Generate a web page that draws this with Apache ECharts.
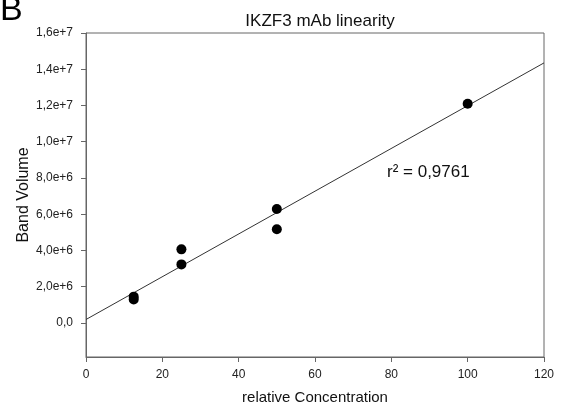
<!DOCTYPE html>
<html><head><meta charset="utf-8">
<script src="https://cdn.jsdelivr.net/npm/echarts@6/dist/echarts.min.js"></script>
<style>html,body{margin:0;padding:0;background:#fff}#c{width:562px;height:410px}</style>
</head><body><div id="c"></div>
<script>
// Data
const concentration = [12.5, 12.5, 25, 25, 50, 50, 100];
const bandVolume = [1.45e6, 1.30e6, 4.06e6, 3.23e6, 6.29e6, 5.17e6, 12.1e6];
const fitX = [0, 120];
const fitY = [0.19e6, 14.35e6];
const xTicks = [0, 20, 40, 60, 80, 100, 120];
const yTicks = [0, 2e6, 4e6, 6e6, 8e6, 1e7, 1.2e7, 1.4e7, 1.6e7];
const yTickLabels = ['0,0', '2,0e+6', '4,0e+6', '6,0e+6', '8,0e+6', '1,0e+7', '1,2e+7', '1,4e+7', '1,6e+7'];
const titleText = 'IKZF3 mAb linearity';
const r2Text = 'r² = 0,9761';

const font = 'Liberation Sans, Arial, sans-serif';
const chart = echarts.init(document.getElementById('c'), null, {renderer: 'canvas'});
chart.setOption({
  animation: false,
  backgroundColor: '#fff',
  title: {text: titleText, left: 315, top: 8, textAlign: 'center',
    textStyle: {fontFamily: font, fontSize: 17, fontWeight: 'normal', color: '#111'}},
  grid: {left: 86, right: 18, top: 33, bottom: 53, show: true, borderColor: '#666', borderWidth: 1, backgroundColor: 'transparent'},
  xAxis: {
    type: 'value', min: 0, max: 120, interval: 20,
    name: 'relative Concentration', nameLocation: 'middle', nameGap: 33, nameMoveOverlap: false,
    nameTextStyle: {fontFamily: font, fontSize: 15, color: '#111'},
    axisLine: {show: true, onZero: false, lineStyle: {color: '#666', width: 1}},
    axisTick: {show: true, length: 5, inside: false, lineStyle: {color: '#666'}},
    axisLabel: {fontFamily: font, fontSize: 12, color: '#222', margin: 12},
    splitLine: {show: false}
  },
  yAxis: {
    type: 'value', min: -1.88e6, max: 1.6e7,
    name: 'Band Volume', nameLocation: 'middle', nameGap: 54, nameRotate: 90, nameMoveOverlap: false,
    nameTextStyle: {fontFamily: font, fontSize: 16, color: '#111'},
    axisLine: {show: true, onZero: false, lineStyle: {color: '#666', width: 1}},
    axisTick: {show: true, length: 5, inside: false, customValues: yTicks, lineStyle: {color: '#666'}},
    axisLabel: {fontFamily: font, fontSize: 12, color: '#222', margin: 13, customValues: yTicks,
      formatter: function (v) { const i = yTicks.findIndex(t => Math.abs(t - v) < 1); return i >= 0 ? yTickLabels[i] : ''; }},
    splitLine: {show: false}
  },
  series: [
    {type: 'line', data: fitX.map((x, i) => [x, fitY[i]]), symbol: 'none', silent: true,
      lineStyle: {color: '#333', width: 1}, z: 2},
    {type: 'scatter', data: concentration.map((x, i) => [x, bandVolume[i]]), symbol: 'circle', symbolSize: 10,
      itemStyle: {color: '#000', opacity: 1}, z: 3}
  ],
  graphic: [
    {type: 'text', left: 0, top: -6, style: {text: 'B', fontFamily: font, fontSize: 34, fill: '#000'}},
    {type: 'text', left: 387, top: 164, style: {text: r2Text, fontFamily: font, fontSize: 17, fill: '#111'}}
  ]
});
</script></body></html>
